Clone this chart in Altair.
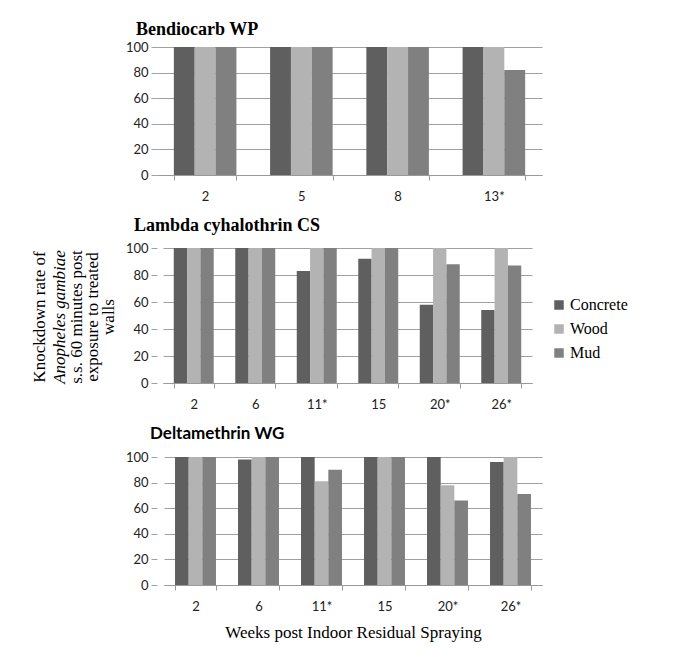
import altair as alt
import pandas as pd

materials = ["Concrete", "Wood", "Mud"]
colors = ["#5f5f5f", "#b3b3b3", "#808080"]

bendio_weeks = ["2", "5", "8", "13*"]
bendio_concrete = [100, 100, 100, 100]
bendio_wood = [100, 100, 100, 100]
bendio_mud = [100, 100, 100, 82]

lambda_weeks = ["2", "6", "11*", "15", "20*", "26*"]
lambda_concrete = [100, 100, 83, 92, 58, 54]
lambda_wood = [100, 100, 100, 100, 100, 100]
lambda_mud = [100, 100, 100, 100, 88, 87]

delta_weeks = ["2", "6", "11*", "15", "20*", "26*"]
delta_concrete = [100, 98, 100, 100, 100, 96]
delta_wood = [100, 100, 81, 100, 78, 100]
delta_mud = [100, 100, 90, 100, 66, 71]

ytitle_lines = ["Knockdown rate of", "Anopheles gambiae", "s.s. 60 minutes post",
                "exposure to treated", "walls"]
x_title = "Weeks post Indoor Residual Spraying"


def long_df(weeks, conc, wood, mud):
    rows = []
    for m, vals in zip(materials, [conc, wood, mud]):
        for w, v in zip(weeks, vals):
            rows.append({"week": w, "material": m, "value": v})
    return pd.DataFrame(rows)


def ytitle_text(txt, xv, italic=False):
    return alt.Chart(pd.DataFrame({"t": [txt]})).mark_text(
        angle=270, align="center", baseline="middle", font="Liberation Serif",
        fontSize=17, color="black",
        fontStyle="italic" if italic else "normal"
    ).encode(x=alt.value(xv), y=alt.value(69), text="t:N")


def panel(title, title_font, title_size, title_dx, title_offset, weeks, conc, wood, mud,
          width, height, x_range, legend=False, xtitle=False):
    df = long_df(weeks, conc, wood, mud)
    xaxis_kw = dict(labelAngle=0, tickBand="extent", tickSize=5, tickColor="#999999",
                    domainColor="#999999", labelFont="Lato", labelFontSize=13,
                    labelColor="#222222", labelPadding=10, grid=False)
    if xtitle:
        xaxis_kw.update(title=x_title, titleFont="Liberation Serif", titleFontSize=17,
                        titleFontWeight="normal", titleColor="black", titlePadding=11)
    else:
        xaxis_kw.update(title=None)
    if legend:
        leg = alt.Legend(title=None, orient="none", legendX=394, legendY=49,
                         symbolType="square", symbolSize=90, symbolStrokeWidth=0,
                         labelFont="Liberation Serif", labelFontSize=16, labelColor="black",
                         rowPadding=8, labelOffset=3)
    else:
        leg = None
    bars = alt.Chart(df).mark_bar().encode(
        x=alt.X("week:N", sort=weeks,
                scale=alt.Scale(paddingInner=0.35, paddingOuter=0.175, range=x_range),
                axis=alt.Axis(**xaxis_kw)),
        xOffset=alt.XOffset("material:N", sort=materials,
                            scale=alt.Scale(paddingInner=0, paddingOuter=0)),
        y=alt.Y("value:Q", scale=alt.Scale(domain=[0, 100]),
                axis=alt.Axis(title=None, values=[0, 20, 40, 60, 80, 100], domain=False,
                              tickSize=6, tickColor="#a0a0a0", grid=True, gridColor="#a0a0a0",
                              labelFont="Lato", labelFontSize=13, labelColor="#222222",
                              labelPadding=3)),
        color=alt.Color("material:N", sort=materials,
                        scale=alt.Scale(domain=materials, range=colors), legend=leg),
    ).properties(
        width=width, height=height,
        title=alt.TitleParams(title, font=title_font, fontSize=title_size, fontWeight="bold",
                              anchor="start", frame="group", dx=title_dx,
                              offset=title_offset, color="black"),
    )
    return bars


top = panel("Bendiocarb WP", "Liberation Serif", 18, -21, 2, bendio_weeks, bendio_concrete,
            bendio_wood, bendio_mud, 385, 128, [0, 385])
mid = panel("Lambda cyhalothrin CS", "Liberation Serif", 18, -23, 7, lambda_weeks,
            lambda_concrete, lambda_wood, lambda_mud, 375, 135, [6, 375], legend=True)
bot = panel("Deltamethrin WG", "Lato", 17, -7, 8, delta_weeks, delta_concrete, delta_wood,
            delta_mud, 385, 128, [7, 385], xtitle=True)

line_x = [-117, -97, -80, -64, -48]
title_layers = [ytitle_text(txt, xv, italic=(i == 1))
                for i, (txt, xv) in enumerate(zip(ytitle_lines, line_x))]

mid_full = alt.layer(mid, *title_layers)

chart = alt.vconcat(top, mid_full, bot, spacing=14).resolve_scale(
    x="independent", y="independent", color="independent", xOffset="independent"
).properties(
    padding={"left": 22, "top": 13, "right": 5, "bottom": 5}
).configure_view(stroke=None)

chart.save("out.html", embed_options={"renderer": "svg", "actions": False})
